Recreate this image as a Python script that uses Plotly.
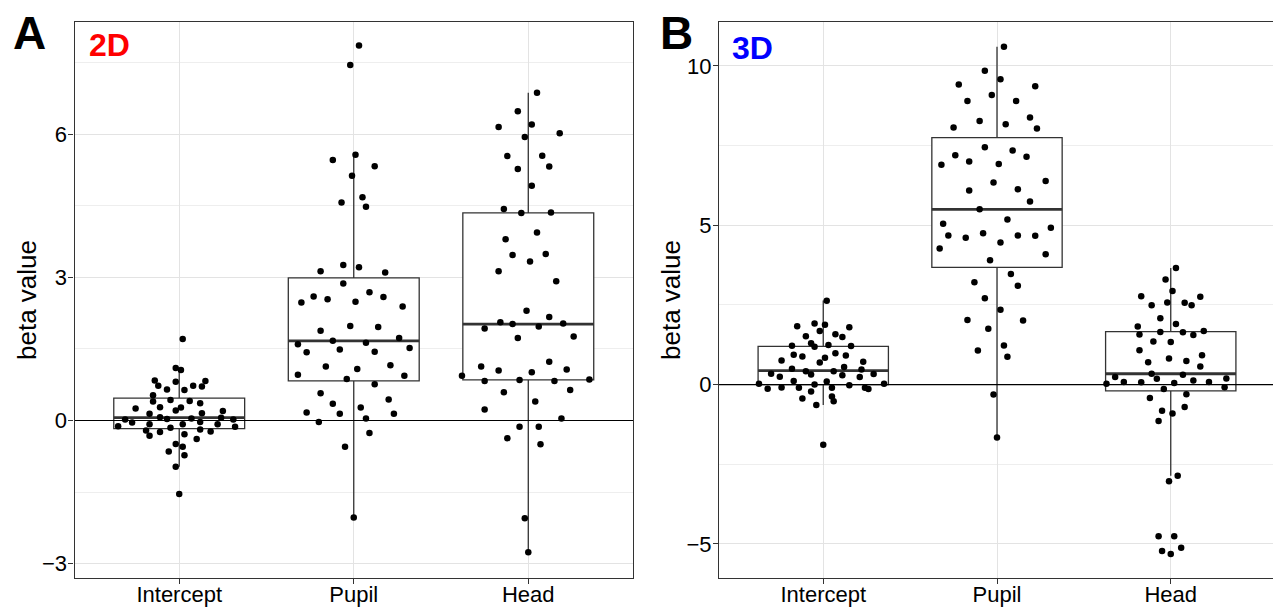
import plotly.graph_objects as go

categories = ["Intercept", "Pupil", "Head"]

# ---------------- Panel A (2D) ----------------
a_intercept = [1.71,1.10,1.06,0.84,0.81,0.83,0.73,0.65,0.64,0.73,0.71,0.53,0.40,0.43,0.41,0.36,0.28,0.25,0.21,0.27,
               0.20,0.14,0.07,0.03,0.02,-0.04,0.04,0.15,-0.03,0.06,0.02,-0.12,-0.08,-0.08,-0.08,-0.13,-0.21,-0.24,-0.15,-0.19,
               -0.23,-0.32,-0.29,-0.39,-0.49,-0.55,-0.65,-0.73,-0.97,-1.54]
a_intercept_jit = [0.02,-0.02,0.01,-0.14,-0.02,0.15,-0.12,-0.07,0.03,0.08,0.13,-0.15,-0.15,-0.05,0.06,0.12,-0.11,-0.25,-0.02,0.01,
                   0.25,-0.17,-0.11,-0.07,-0.31,-0.27,0.07,0.13,0.12,0.24,0.31,-0.35,-0.17,0.02,0.22,0.32,-0.19,-0.11,-0.05,0.12,
                   0.18,-0.17,0.03,0.10,-0.02,0.02,-0.06,0.03,-0.02,0.00]
a_pupil = [7.86,7.45,5.57,5.46,5.33,5.13,4.68,4.57,4.48,3.26,3.13,3.21,3.10,2.87,2.47,2.60,2.54,2.49,2.69,2.59,2.39,
           1.88,1.98,1.96,1.60,1.43,1.67,1.49,1.63,1.44,1.73,1.52,0.96,1.13,1.08,1.16,0.94,0.87,0.76,0.57,0.35,0.27,0.44,
           0.17,0.14,0.14,-0.03,0.04,-0.26,-0.55,-2.03]
a_pupil_jit = [0.03,-0.02,0.01,-0.12,0.12,-0.01,0.05,-0.07,0.07,-0.06,-0.19,0.03,0.18,-0.06,-0.30,-0.23,-0.15,0.01,0.09,0.17,0.28,
               -0.19,-0.02,0.14,-0.32,-0.27,-0.12,-0.08,0.07,0.12,0.26,0.32,-0.32,-0.16,0.02,0.21,0.29,-0.04,0.12,-0.19,-0.12,0.04,0.20,
               -0.27,-0.08,0.23,-0.20,0.07,0.09,-0.05,0.00]
a_head = [6.87,6.48,6.20,6.15,6.02,5.94,5.54,5.55,5.27,5.32,4.92,4.43,4.35,4.36,3.94,3.80,3.47,3.49,3.33,3.13,2.92,2.30,2.17,
          1.93,2.06,2.02,1.97,2.03,1.73,1.76,1.13,1.05,1.01,1.23,1.07,0.94,0.83,0.85,0.83,0.86,0.59,0.64,0.40,0.23,0.04,
          -0.13,-0.13,-0.37,-0.50,-2.05,-2.76]
a_head_jit = [0.05,-0.06,0.02,-0.17,0.18,-0.02,-0.12,0.08,-0.06,0.12,0.02,-0.14,-0.04,0.13,0.05,-0.13,-0.09,0.10,0.01,-0.17,0.16,-0.01,0.12,
              -0.25,-0.16,-0.09,0.06,0.20,-0.06,0.26,-0.27,-0.17,0.02,0.12,0.22,-0.38,-0.25,-0.05,0.15,0.35,-0.14,0.24,0.04,-0.25,0.19,
              -0.05,0.06,-0.12,0.07,-0.02,0.00]
a_q1 = [-0.17, 0.83, 0.85]
a_median = [0.06, 1.67, 2.02]
a_q3 = [0.47, 2.99, 4.35]
a_lower = [-0.97, -2.03, -2.76]
a_upper = [1.10, 5.57, 6.87]

# ---------------- Panel B (3D) ----------------
b_intercept = [2.63,1.83,1.92,1.88,1.80,1.68,1.52,1.58,1.49,1.22,1.30,1.19,1.24,1.21,0.94,0.88,0.98,0.91,0.84,0.76,
               0.69,0.72,0.50,0.42,0.42,0.55,0.47,0.34,0.25,0.32,0.29,0.24,0.33,0.11,0.00,0.10,0.03,0.03,-0.02,-0.13,
               -0.09,-0.10,-0.10,-0.10,-0.14,-0.22,-0.37,-0.44,-0.52,-0.64,-1.89]
b_intercept_jit = [0.02,-0.15,-0.05,0.01,0.15,-0.02,-0.10,0.07,0.11,-0.18,-0.07,-0.05,0.03,0.16,-0.17,-0.12,0.07,0.13,0.01,-0.24,
                   -0.02,0.23,-0.18,-0.10,0.06,0.12,0.22,-0.30,-0.25,-0.07,0.11,0.21,0.29,-0.17,-0.05,0.02,-0.37,0.35,0.15,-0.32,
                   -0.24,-0.14,0.05,0.24,0.26,-0.07,0.05,-0.12,0.06,-0.04,0.00]
b_pupil = [10.60,9.85,9.58,9.42,9.36,9.09,8.90,8.90,8.27,8.38,8.07,8.17,8.04,7.45,7.20,7.35,7.15,6.90,7.00,6.92,
           6.39,6.34,6.09,6.13,5.75,5.50,5.05,5.18,4.68,4.61,4.75,4.46,4.68,4.67,4.92,4.27,4.09,3.90,3.47,3.21,
           3.10,2.71,2.35,2.03,2.01,1.75,1.23,1.07,0.87,-0.31,-1.66]
b_pupil_jit = [0.04,-0.07,0.02,-0.22,0.22,-0.03,-0.17,0.11,-0.10,0.19,-0.25,0.05,0.23,-0.07,-0.24,0.09,0.17,-0.32,-0.16,0.01,
               0.28,-0.02,-0.16,0.12,0.19,-0.10,-0.31,0.06,-0.28,-0.18,-0.08,0.02,0.12,0.22,0.31,-0.33,0.28,-0.04,0.08,-0.13,
               0.12,-0.07,0.02,-0.17,0.15,-0.05,0.04,-0.11,0.06,-0.02,0.00]
b_head = [3.66,3.30,2.94,2.77,2.76,2.49,2.58,2.57,2.49,2.08,1.82,1.90,1.57,1.65,1.64,1.56,1.68,1.35,1.34,1.08,
          0.82,0.70,0.74,0.92,0.57,0.34,0.31,0.24,0.18,0.19,0.03,0.08,0.07,0.05,0.13,0.08,-0.14,-0.08,-0.30,-0.42,
          -0.70,-0.82,-0.91,-1.14,-2.86,-3.03,-4.76,-4.76,-5.12,-5.22,-5.32]
b_head_jit = [0.03,-0.03,0.01,-0.17,0.17,-0.11,-0.02,0.08,0.12,-0.06,-0.19,0.03,-0.18,-0.06,0.07,0.13,0.19,-0.10,0.00,-0.18,
              -0.01,-0.13,0.09,0.18,0.17,-0.11,0.07,-0.32,-0.08,0.32,-0.37,-0.27,-0.17,0.02,0.13,0.22,-0.04,0.31,0.09,-0.12,
              0.08,-0.05,0.01,-0.07,0.04,-0.01,-0.07,0.02,0.06,-0.05,0.00]
b_q1 = [0.00, 3.68, -0.20]
b_median = [0.44, 5.50, 0.34]
b_q3 = [1.20, 7.75, 1.66]
b_lower = [-0.64, -1.66, -2.86]
b_upper = [2.64, 10.60, 3.66]

# ---------------- styling ----------------
FONT = "Liberation Sans, Arial, Helvetica, sans-serif"
DARK = "#333333"
GRID = "#E3E3E3"
GRID_MINOR = "#EEEEEE"
BOX_W = 0.75
XR = [0.4, 3.6]
positions = [1, 2, 3]

# page is rendered with the default 8px body margin -> work in page pixels, shift by OFF
OFF = 8
W, H = 1281 - OFF, 607 - OFF


def px(x):
    return (x - OFF) / W


def py(y):
    return 1 - (y - OFF) / H


fig = go.Figure()


def add_panel(xa, ya, q1, med, q3, lo, hi, groups):
    fig.add_trace(go.Box(
        x=positions, q1=q1, median=med, q3=q3, lowerfence=lo, upperfence=hi,
        width=BOX_W, fillcolor="white", line=dict(color=DARK, width=1.3),
        whiskerwidth=0, boxpoints=False, showlegend=False, hoverinfo="skip",
        xaxis=xa, yaxis=ya))
    mx, my = [], []
    for p, m in zip(positions, med):
        mx += [p - BOX_W / 2, p + BOX_W / 2, None]
        my += [m, m, None]
    fig.add_trace(go.Scatter(x=mx, y=my, mode="lines", line=dict(color=DARK, width=2.8),
                             showlegend=False, hoverinfo="skip", xaxis=xa, yaxis=ya))
    fig.add_trace(go.Scatter(x=XR, y=[0, 0], mode="lines", line=dict(color="black", width=1.2),
                             showlegend=False, hoverinfo="skip", xaxis=xa, yaxis=ya))
    for p, (vals, jit) in zip(positions, groups):
        fig.add_trace(go.Scatter(
            x=[p + j for j in jit], y=vals, mode="markers",
            marker=dict(color="black", size=6.5, line=dict(width=0)),
            showlegend=False, hoverinfo="skip", xaxis=xa, yaxis=ya))


add_panel("x", "y", a_q1, a_median, a_q3, a_lower, a_upper,
          [(a_intercept, a_intercept_jit), (a_pupil, a_pupil_jit), (a_head, a_head_jit)])
add_panel("x2", "y2", b_q1, b_median, b_q3, b_lower, b_upper,
          [(b_intercept, b_intercept_jit), (b_pupil, b_pupil_jit), (b_head, b_head_jit)])

ydom = [py(578), py(22)]

xcommon = dict(range=XR, tickmode="array", tickvals=positions, ticktext=categories,
               showgrid=True, gridcolor=GRID, gridwidth=1, zeroline=False,
               showline=True, linecolor=DARK, linewidth=1.2, mirror=True,
               ticks="outside", ticklen=5, tickcolor=DARK, tickwidth=1,
               tickfont=dict(family=FONT, size=22, color="black"),
               ticklabelstandoff=-9,
               automargin=False, fixedrange=True)
ycommon = dict(showgrid=True, gridcolor=GRID, gridwidth=1, zeroline=False,
               showline=True, linecolor=DARK, linewidth=1.2, mirror=True,
               ticks="outside", ticklen=5, tickcolor=DARK, tickwidth=1,
               tickfont=dict(family=FONT, size=22, color="black"),
               ticklabelstandoff=-3,
               automargin=False, fixedrange=True)

fig.update_layout(
    width=W, height=H, autosize=False,
    margin=dict(l=0, r=0, t=0, b=0),
    paper_bgcolor="white", plot_bgcolor="white",
    xaxis=dict(domain=[px(74.5), px(633)], anchor="y", **xcommon),
    xaxis2=dict(domain=[px(719), px(1275)], anchor="y2", **xcommon),
    yaxis=dict(domain=ydom, anchor="x", range=[-3.30, 8.35], tickmode="linear", tick0=0, dtick=3,
               minor=dict(showgrid=True, gridcolor=GRID_MINOR, gridwidth=0.8, tick0=0, dtick=1.5), **ycommon),
    yaxis2=dict(domain=ydom, anchor="x2", range=[-6.07, 11.38], tickmode="linear", tick0=0, dtick=5,
                minor=dict(showgrid=True, gridcolor=GRID_MINOR, gridwidth=0.8, tick0=0, dtick=2.5), **ycommon),
    showlegend=False,
)

ann = [
    dict(text="<b>A</b>", x=px(29), y=py(33), font=dict(size=46, color="black")),
    dict(text="<b>B</b>", x=px(676), y=py(33), font=dict(size=46, color="black")),
    dict(text="<b>2D</b>", x=px(109), y=py(45), font=dict(size=32, color="#FF0000")),
    dict(text="<b>3D</b>", x=px(752), y=py(48), font=dict(size=32, color="#0000FF")),
    dict(text="beta value", x=px(27), y=py(300), textangle=-90, font=dict(size=26, color="black")),
    dict(text="beta value", x=px(671), y=py(300), textangle=-90, font=dict(size=26, color="black")),
]
for a in ann:
    a["font"]["family"] = FONT
    fig.add_annotation(xref="paper", yref="paper", xanchor="center", yanchor="middle",
                       showarrow=False, **a)

fig.write_html("out.html")
